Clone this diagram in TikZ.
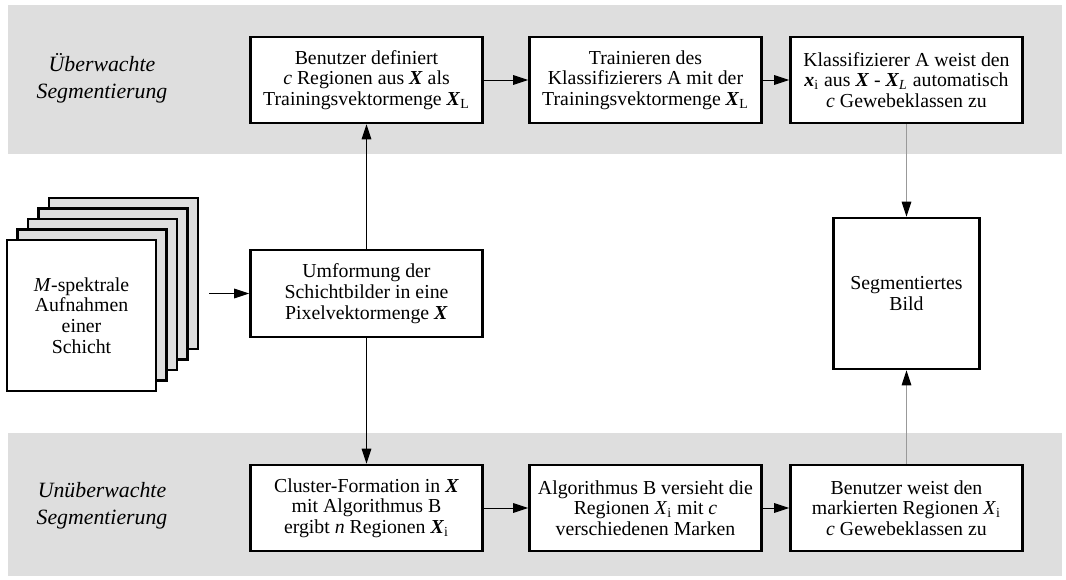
\documentclass[tikz,border=0pt]{standalone}
\usepackage{fontspec}
\setmainfont{Liberation Serif}
\usetikzlibrary{arrows.meta}
\newcommand{\bX}{\textbf{\textit{X}}}
\newcommand{\bx}{\textbf{\textit{x}}}

\begin{document}
\begin{tikzpicture}[x=0.5pt,y=-0.5pt,
  band/.style={fill=black!13, draw=none},
  procbox/.style={draw, line width=1.3pt, fill=white, align=center,
    inner sep=0pt, minimum width=116pt, minimum height=43pt,
    font=\fontsize{9.9}{10.35}\selectfont},
  sheet/.style={draw, line width=1.3pt, fill=black!13},
  sidelabel/.style={align=center, font=\fontsize{10.9}{13.3}\selectfont\itshape},
  flow/.style={-{Triangle[length=7.5pt,width=4.8pt]}, line width=0.5pt},
  grayflow/.style={flow, draw=black!40, -{Triangle[length=7.5pt,width=4.8pt,color=black]}}]

\useasboundingbox (0,0) rectangle (1066,579);

% shaded bands for the two segmentation paths
\fill[band] (8,5) rectangle (1062,154);
\fill[band] (8,433) rectangle (1062,576);

\node[sidelabel] (lblsup) at (102,78) {Überwachte\\Segmentierung};
\node[sidelabel] (lblunsup) at (102,506) {Unüberwachte\\Segmentierung};

% stack of spectral images
\foreach \k in {4,3,2,1}
  \draw[sheet] ({7+10.5*\k},{240-10.5*\k}) rectangle ++(149,151);
\node[draw, line width=1.3pt, fill=white, minimum width=74.5pt, minimum height=75.5pt,
      inner sep=0pt, align=center, font=\fontsize{9.9}{10.35}\selectfont]
  (stack) at (81.5,315.5) {\textit{M}-spektrale\\Aufnahmen\\einer\\Schicht};
\coordinate (stackout) at (209,293.5);

% process boxes
\node[procbox] (define) at (366.5,80) {Benutzer definiert\\\textit{c} Regionen aus \bX{} als\\Trainingsvektormenge \bX\textsubscript{L}};
\node[procbox] (train) at (645.5,80) {Trainieren des\\Klassifizierers A mit der\\Trainingsvektormenge \bX\textsubscript{L}};
\node[procbox] (classify) at (906.5,80) {Klassifizierer A weist den\\\bx\textsubscript{i} aus \bX{} - \bX\textsubscript{\textit{L}} automatisch\\\textit{c} Gewebeklassen zu};

\node[procbox, minimum height=43.5pt] (reshape) at (366.5,293.5) {Umformung der\\Schichtbilder in eine\\Pixelvektormenge \bX};

\node[procbox, minimum width=73pt, minimum height=75.5pt] (result) at (906.5,293.5) {Segmentiertes\\Bild};

\node[procbox] (cluster) at (366.5,508) {Cluster-Formation in \bX\\mit Algorithmus B\\ergibt \textit{n} Regionen \bX\textsubscript{i}};
\node[procbox] (mark) at (645.5,508) {Algorithmus B versieht die\\Regionen \textit{X}\textsubscript{i} mit \textit{c}\\verschiedenen Marken};
\node[procbox] (assign) at (906.5,508) {Benutzer weist den\\markierten Regionen \textit{X}\textsubscript{i}\\\textit{c} Gewebeklassen zu};

% connectors
\draw[flow] (stackout) -- (reshape.west);
\draw[flow] (reshape.north) -- (define.south);
\draw[flow] (reshape.south) -- (cluster.north);
\draw[flow] (define.east) -- (train.west);
\draw[flow] (train.east) -- (classify.west);
\draw[flow] (cluster.east) -- (mark.west);
\draw[flow] (mark.east) -- (assign.west);
\draw[grayflow] (classify.south) -- (result.north);
\draw[grayflow] (assign.north) -- (result.south);
\end{tikzpicture}
\end{document}
